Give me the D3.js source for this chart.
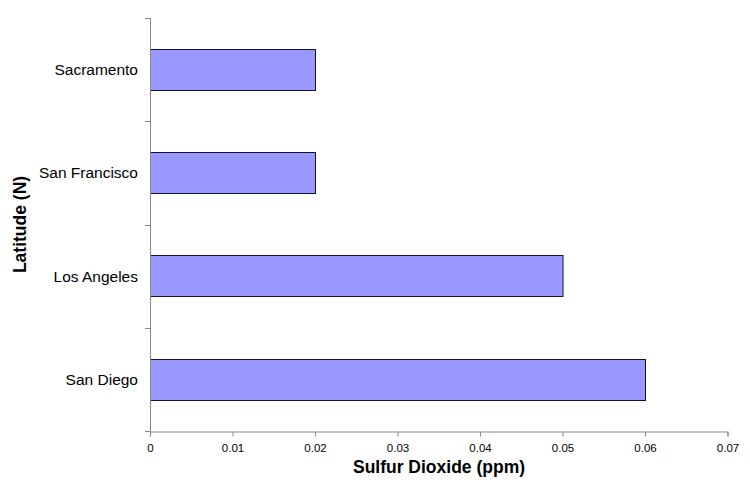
<!DOCTYPE html>
<html>
<head>
<script src="https://cdn.jsdelivr.net/npm/d3@7"></script>
<meta charset="utf-8">
<style>
body { margin: 0; background: white; font-family: "Liberation Sans", Arial, sans-serif; }
.axis path, .axis line { stroke: #888; }
</style>
</head>
<body>
<div class="chart"></div>
<script>
// cities, top to bottom
var cities = ["Sacramento", "San Francisco", "Los Angeles", "San Diego"];
var so2 = [0.02, 0.02, 0.05, 0.06];
var xTicks = [0, 0.01, 0.02, 0.03, 0.04, 0.05, 0.06, 0.07];

var width = 750, height = 488,
    plotLeft = 150, plotRight = 727.5, plotTop = 18, plotBottom = 431;

var svg = d3.select(".chart").append("svg")
  .attr("width", width)
  .attr("height", height);

var x = d3.scaleLinear().domain([0, 0.07]).range([plotLeft, plotRight]);
var y = d3.scaleBand().domain(cities).range([plotTop, plotBottom])
  .paddingInner(0.6).paddingOuter(0.3);

// bars
svg.selectAll("rect.bar")
  .data(cities)
  .enter().append("rect")
  .attr("class", "bar")
  .attr("x", x(0) + 0.5)
  .attr("y", function(d) { return Math.round(y(d)) + 0.5; })
  .attr("width", function(d, i) { return x(so2[i]) - x(0); })
  .attr("height", Math.round(y.bandwidth()))
  .attr("fill", "#9999ff")
  .attr("stroke", "#111133")
  .attr("stroke-width", 1);

// x axis
var xAxis = svg.append("g").attr("class", "axis")
  .attr("transform", "translate(0," + (plotBottom + 0.5) + ")")
  .call(d3.axisBottom(x).tickValues(xTicks).tickSizeOuter(0).tickSize(5).tickPadding(7)
    .tickFormat(function(d) { return d === 0 ? "0" : d3.format(".2f")(d); }));
xAxis.selectAll("text").style("font-size", "11.5px").style("fill", "#000")
  .style("font-family", "'Liberation Sans', Arial, sans-serif");

// y axis: ticks at category boundaries
var bounds = d3.range(cities.length + 1).map(function(i) { return plotTop + i * y.step(); });
var yg = svg.append("g").attr("class", "axis");
yg.append("line")
  .attr("x1", plotLeft + 0.5).attr("x2", plotLeft + 0.5)
  .attr("y1", plotTop).attr("y2", plotBottom + 0.5);
yg.selectAll("line.tick").data(bounds).enter().append("line")
  .attr("class", "tick")
  .attr("x1", plotLeft - 5).attr("x2", plotLeft + 0.5)
  .attr("y1", function(d) { return Math.round(d) + 0.5; })
  .attr("y2", function(d) { return Math.round(d) + 0.5; });

svg.selectAll("text.cat").data(cities).enter().append("text")
  .attr("class", "cat")
  .attr("x", 138)
  .attr("y", function(d) { return y(d) + y.bandwidth() / 2; })
  .attr("dy", "0.35em")
  .attr("text-anchor", "end")
  .style("font-size", "15.5px")
  .text(function(d) { return d; });

// titles
svg.append("text")
  .attr("x", 439).attr("y", 473)
  .attr("text-anchor", "middle")
  .style("font-size", "17.5px").style("font-weight", "bold")
  .text("Sulfur Dioxide (ppm)");

svg.append("text")
  .attr("transform", "translate(26," + ((plotTop + plotBottom) / 2) + ") rotate(-90)")
  .attr("text-anchor", "middle")
  .style("font-size", "17.5px").style("font-weight", "bold")
  .text("Latitude (N)");
</script>
</body>
</html>
